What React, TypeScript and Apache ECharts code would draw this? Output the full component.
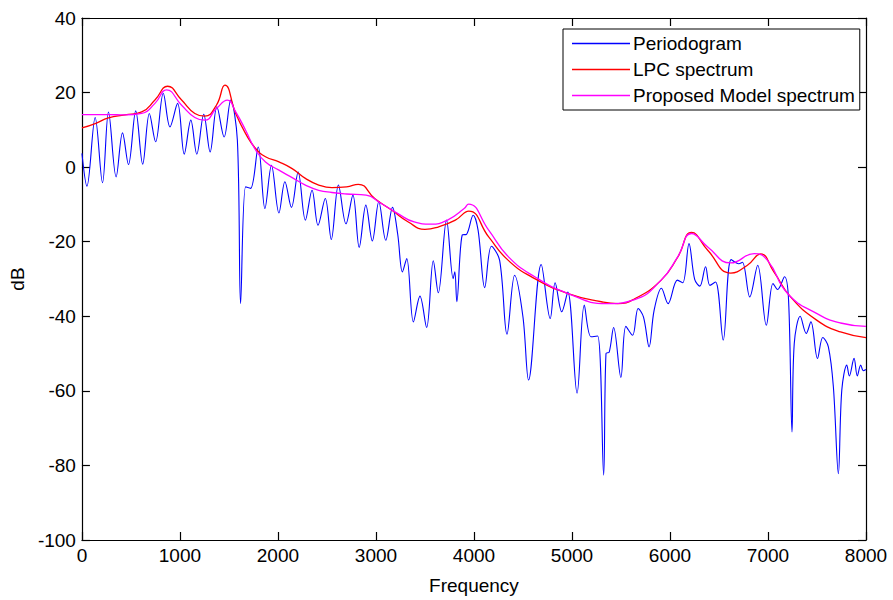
import React, { useEffect, useRef } from "react";
import * as echarts from "echarts";

// Periodogram (Hz, dB)
const periodogramFreq = [
  0, 51, 135, 210, 271, 349, 414, 475, 549, 620, 688, 752, 830, 898, 976, 1044, 1111, 1172, 1243, 1308,
  1377, 1451, 1518, 1586, 1619, 1670, 1721, 1799, 1867, 1934, 2010, 2071, 2138, 2206, 2280, 2348, 2409, 2483, 2544, 2617,
  2694, 2765, 2829, 2897, 2963, 3029, 3100, 3169, 3222, 3270, 3314, 3382, 3449, 3517, 3585, 3636, 3720, 3788, 3805, 3825,
  3880, 3924, 3992, 4042, 4110, 4178, 4262, 4337, 4415, 4500, 4557, 4686, 4778, 4828, 4896, 4957, 5052, 5126, 5194, 5262,
  5323, 5347, 5380, 5425, 5499, 5550, 5618, 5675, 5730, 5787, 5838, 5913, 5980, 6076, 6130, 6194, 6252, 6305, 6363, 6407,
  6465, 6543, 6624, 6702, 6739, 6814, 6895, 6983, 7051, 7098, 7169, 7210, 7245, 7268, 7329, 7390, 7438, 7505, 7559, 7616,
  7667, 7718, 7753, 7804, 7830, 7878, 7911, 7946, 7973, 8000,
];
const periodogramDb = [
  3.7, -5.1, 13.3, -4.2, 14.8, -2.6, 9.2, 0.7, 15.1, 0.8, 14.4, 6.8, 19.8, 10.8, 17.1, 3.5, 12.6, 3.5, 14.2, 4.1,
  16.2, 8.1, 18.0, 7.2, -36.6, -5.3, -5.7, 5.4, -11.1, 0.5, -12.3, -3.9, -10.8, -1.3, -14.2, -6.2, -15.6, -8.4, -19.4, -4.8,
  -15.2, -7.5, -21.5, -10.2, -19.8, -9.3, -19.6, -10.8, -18, -28.1, -24.5, -41.5, -34.6, -43.0, -25.1, -33.7, -14.2, -29.9, -28.1, -36.1,
  -18.2, -18, -12.9, -16.9, -32.3, -21.2, -25, -44.8, -29, -40.2, -57.1, -26.1, -40.6, -31, -38.8, -33.5, -60.6, -37, -45.5, -45.3,
  -82.6, -50, -49.6, -43, -56.4, -42.7, -45.1, -37.9, -40.2, -48.2, -38.4, -32.5, -36.6, -30.3, -31, -20.5, -30.1, -31.9, -26.7, -31.7,
  -30.8, -46.4, -24.8, -25.9, -25.5, -34.8, -26.3, -42.4, -31.2, -32.8, -29.4, -35.7, -71, -47.3, -40, -44.6, -41.5, -51.3, -45.7, -48.2,
  -58.9, -82.2, -59.8, -53.1, -56, -51.3, -56, -53.1, -54.6, -54.3,
];

// LPC spectrum
const lpcFreq = [
  0, 135, 271, 440, 610, 745, 874, 1017, 1152, 1253, 1372, 1459, 1569, 1670, 1772, 1873, 2010, 2145, 2280, 2416,
  2551, 2700, 2820, 2990, 3160, 3330, 3500, 3640, 3810, 3947, 4150, 4350, 4620, 4960, 5300, 5470, 5640, 5910, 6080, 6220,
  6385, 6620, 6790, 6925, 7060, 7230, 7500, 7740, 8000,
];
const lpcDb = [
  10.5, 11.7, 13.2, 14.0, 14.8, 18.0, 21.7, 18.0, 14.4, 13.7, 16.6, 22.0, 14.4, 9.0, 5.0, 2.8, 1.4, -0.4, -3.0, -4.8,
  -5.5, -5.3, -4.6, -8.5, -11.5, -14.7, -16.7, -16.0, -14.2, -11.8, -18.7, -25.0, -29.9, -33.9, -36.1, -36.6, -35.3, -30.3, -24.1, -17.5,
  -22.3, -28.4, -26.3, -23.3, -28.1, -34.8, -41.1, -44.2, -45.7,
];

// Proposed model spectrum
const modelFreq = [
  0, 271, 440, 610, 745, 864, 1017, 1152, 1253, 1372, 1484, 1569, 1670, 1772, 1873, 2010, 2145, 2280, 2416, 2551,
  2700, 2900, 3050, 3220, 3390, 3560, 3730, 3900, 3945, 4150, 4350, 4620, 4960, 5350, 5640, 5910, 6080, 6220, 6385, 6620,
  6860, 6995, 7200, 7500, 7740, 8000,
];
const modelDb = [
  14.1, 14.1, 14.0, 14.4, 17.1, 20.7, 16.6, 13.3, 12.6, 15.7, 18.0, 14.8, 9.9, 4.6, 1.4, -0.8, -2.8, -4.8, -6.2, -6.8,
  -7.2, -7.5, -9.7, -12.4, -14.7, -15.3, -14.2, -11.1, -9.9, -16.9, -24.0, -29.4, -33.9, -36.6, -35.5, -30.3, -24.0, -17.8, -21.4, -25.7,
  -23.2, -25.0, -33.9, -39.3, -41.8, -42.7,
];

const seriesNames = ["Periodogram", "LPC spectrum", "Proposed Model spectrum"];
const FONT = "'Liberation Sans', Arial, sans-serif";

const pairs = (xs: number[], ys: number[]) => xs.map((x, i) => [x, ys[i]]);

export default function App() {
  const ref = useRef<HTMLDivElement>(null);
  useEffect(() => {
    if (!ref.current) return;
    const chart = echarts.init(ref.current, null, { renderer: "svg" });
    const axisLine = { show: true, onZero: false, lineStyle: { color: "#000", width: 1.2 } };
    const tick = { show: true, inside: true, length: 8, lineStyle: { color: "#000", width: 1.2 } };
    const label = { color: "#000", fontSize: 19, fontFamily: FONT, formatter: (v: number) => String(v) };
    chart.setOption({
      animation: false,
      backgroundColor: "#fff",
      grid: { left: 79, right: 27, top: 18, bottom: 59, containLabel: false },
      legend: {
        data: seriesNames,
        orient: "vertical",
        left: 563,
        top: 29,
        backgroundColor: "#fff",
        borderColor: "#000",
        borderWidth: 1,
        borderRadius: 0,
        padding: [5, 5, 5, 9],
        itemGap: 7,
        itemWidth: 58,
        itemHeight: 1.5,
        icon: "rect",
        textStyle: { color: "#000", fontSize: 19, fontFamily: FONT, padding: [0, 0, 0, -2] },
      },
      xAxis: [
        {
          type: "value",
          min: 0,
          max: 8000,
          interval: 1000,
          name: "Frequency",
          nameLocation: "middle",
          nameGap: 36,
          nameTextStyle: { color: "#000", fontSize: 19, fontFamily: FONT },
          axisLine,
          axisTick: tick,
          axisLabel: { ...label, margin: 6 },
          splitLine: { show: false },
        },
        {
          type: "value",
          position: "top",
          min: 0,
          max: 8000,
          interval: 1000,
          axisLine,
          axisTick: tick,
          axisLabel: { show: false },
          splitLine: { show: false },
        },
      ],
      yAxis: [
        {
          type: "value",
          min: -100,
          max: 40,
          interval: 20,
          name: "dB",
          nameLocation: "middle",
          nameGap: 54,
          nameTextStyle: { color: "#000", fontSize: 19, fontFamily: FONT },
          axisLine,
          axisTick: tick,
          axisLabel: { ...label, margin: 6 },
          splitLine: { show: false },
        },
        {
          type: "value",
          position: "right",
          min: -100,
          max: 40,
          interval: 20,
          axisLine,
          axisTick: tick,
          axisLabel: { show: false },
          splitLine: { show: false },
        },
      ],
      series: [
        {
          name: seriesNames[0],
          type: "line",
          data: pairs(periodogramFreq, periodogramDb),
          smooth: 0.35,
          symbol: "none",
          lineStyle: { color: "#0000ff", width: 1.1 },
          itemStyle: { color: "#0000ff" },
        },
        {
          name: seriesNames[1],
          type: "line",
          data: pairs(lpcFreq, lpcDb),
          smooth: 0.5,
          symbol: "none",
          lineStyle: { color: "#ff0000", width: 1.3 },
          itemStyle: { color: "#ff0000" },
        },
        {
          name: seriesNames[2],
          type: "line",
          data: pairs(modelFreq, modelDb),
          smooth: 0.5,
          symbol: "none",
          lineStyle: { color: "#ff00ff", width: 1.3 },
          itemStyle: { color: "#ff00ff" },
        },
      ],
    });
    return () => chart.dispose();
  }, []);
  return <div ref={ref} style={{ position: "fixed", left: 0, top: 0, width: 893, height: 600 }} />;
}
